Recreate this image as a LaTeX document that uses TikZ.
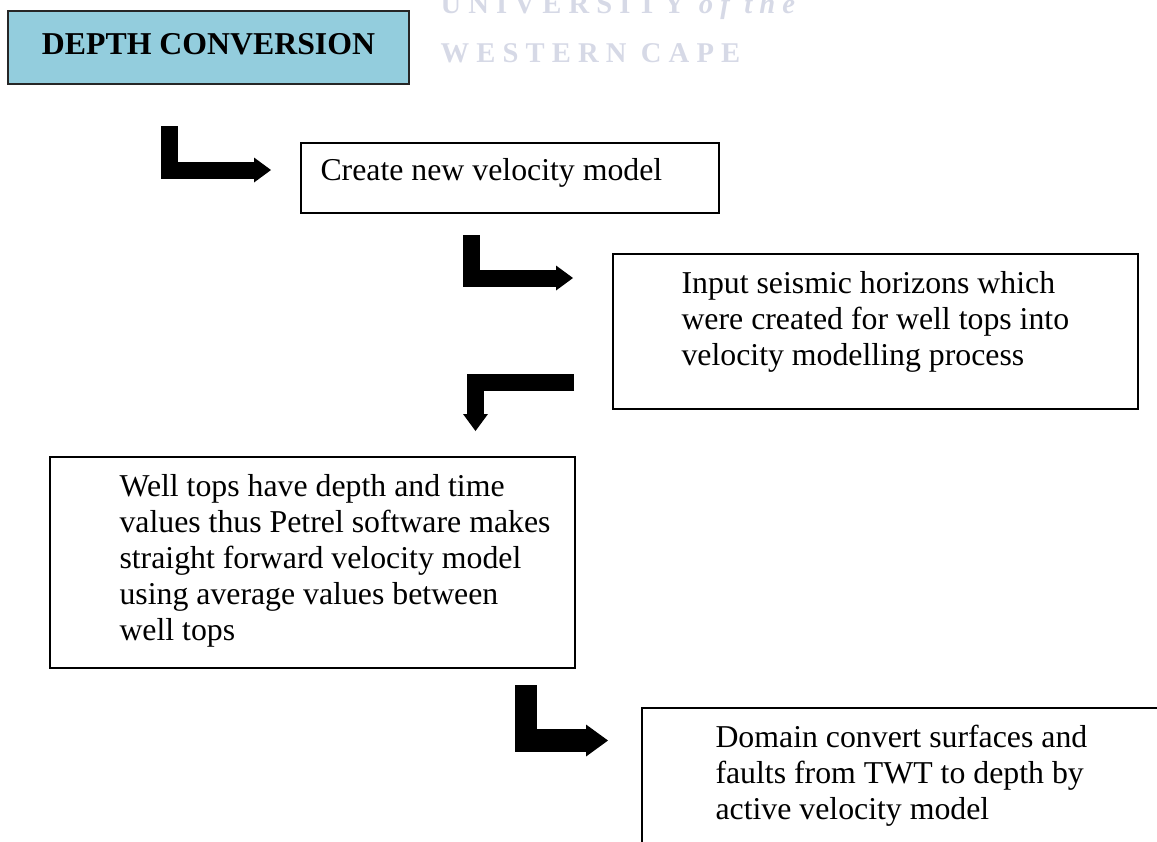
\documentclass[tikz,border=0pt]{standalone}
\usepackage{fontspec}
\setmainfont{Liberation Serif}
\usetikzlibrary{arrows.meta}
\definecolor{headerfill}{RGB}{147,205,221}
\definecolor{crestgray}{RGB}{214,217,230}
\newcommand\pxunit{0.37736pt}
\begin{document}
\begin{tikzpicture}[x=0.37736pt, y=-0.37736pt,
  headbox/.style={draw=black!85, line width=0.75pt, fill=headerfill, anchor=north west,
    inner sep=0pt, font=\bfseries\fontsize{12}{13.6}\selectfont,
    text height=7.94pt, text depth=3.02pt},
  procbox/.style={draw=black, line width=0.75pt, rectangle, inner sep=0pt, anchor=north west},
  bodytext/.style={anchor=north west, inner sep=0pt, align=left,
    font=\fontsize{12}{13.6}\selectfont},
  crest/.style={anchor=base west, inner sep=0pt, text=crestgray,
    font=\bfseries\fontsize{10.8}{12}\selectfont\addfontfeature{LetterSpace=25}},
  blockarrow/.style={line width=6.415pt, line join=miter,
    -{Triangle[width=9.434pt, length=6.415pt, line width=0pt]}},
  bigarrow/.style={line width=8.49pt, line join=miter,
    -{Triangle[width=12.08pt, length=8.30pt, line width=0pt]}}]
\useasboundingbox (0,0) rectangle (1157,841);
\clip (0,0) rectangle (1157,841);

% crest lettering behind the title
\node[crest] (crestA) at (440,13) {UNIVERSITY {\itshape of the}};
\node[crest] (crestB) at (440,62) {WESTERN CAPE};

% title
\node[headbox, minimum width={401*\pxunit}, minimum height={73*\pxunit}] (title) at (7,10) {DEPTH CONVERSION};

% process boxes
\node[procbox, minimum width={418*\pxunit}, minimum height={70*\pxunit}] (create) at (300,142) {};
\node[procbox, minimum width={525*\pxunit}, minimum height={155*\pxunit}] (input) at (612,253) {};
\node[procbox, minimum width={525*\pxunit}, minimum height={211*\pxunit}] (welltops) at (49,456) {};
\node[procbox, minimum width={600*\pxunit}, minimum height={200*\pxunit}] (domain) at (641,707) {};

% box texts
\node[bodytext] (createT) at (320,154.8) {\strut Create new velocity model};
\node[bodytext] (inputT) at (681,267.8) {\strut Input seismic horizons which\\were created for well tops into\\velocity modelling process};
\node[bodytext] (welltopsT) at (119,470.8) {\strut Well tops have depth and time\\values thus Petrel software makes\\straight forward velocity model\\using average values between\\well tops};
\node[bodytext] (domainT) at (715,721.8) {\strut Domain convert surfaces and\\faults from TWT to depth by\\active velocity model};

% bent block arrows
\coordinate (a1s) at (169.5,126); \coordinate (a1e) at (271,170);
\coordinate (a2s) at (471.5,235); \coordinate (a2e) at (573,278);
\coordinate (a3s) at (574,382.5); \coordinate (a3e) at (475.5,431);
\coordinate (a4s) at (526,685);   \coordinate (a4e) at (608,740.5);
\draw[blockarrow] (a1s) |- (a1e);
\draw[blockarrow] (a2s) |- (a2e);
\draw[blockarrow] (a3s) -| (a3e);
\draw[bigarrow] (a4s) |- (a4e);
\end{tikzpicture}
\end{document}
